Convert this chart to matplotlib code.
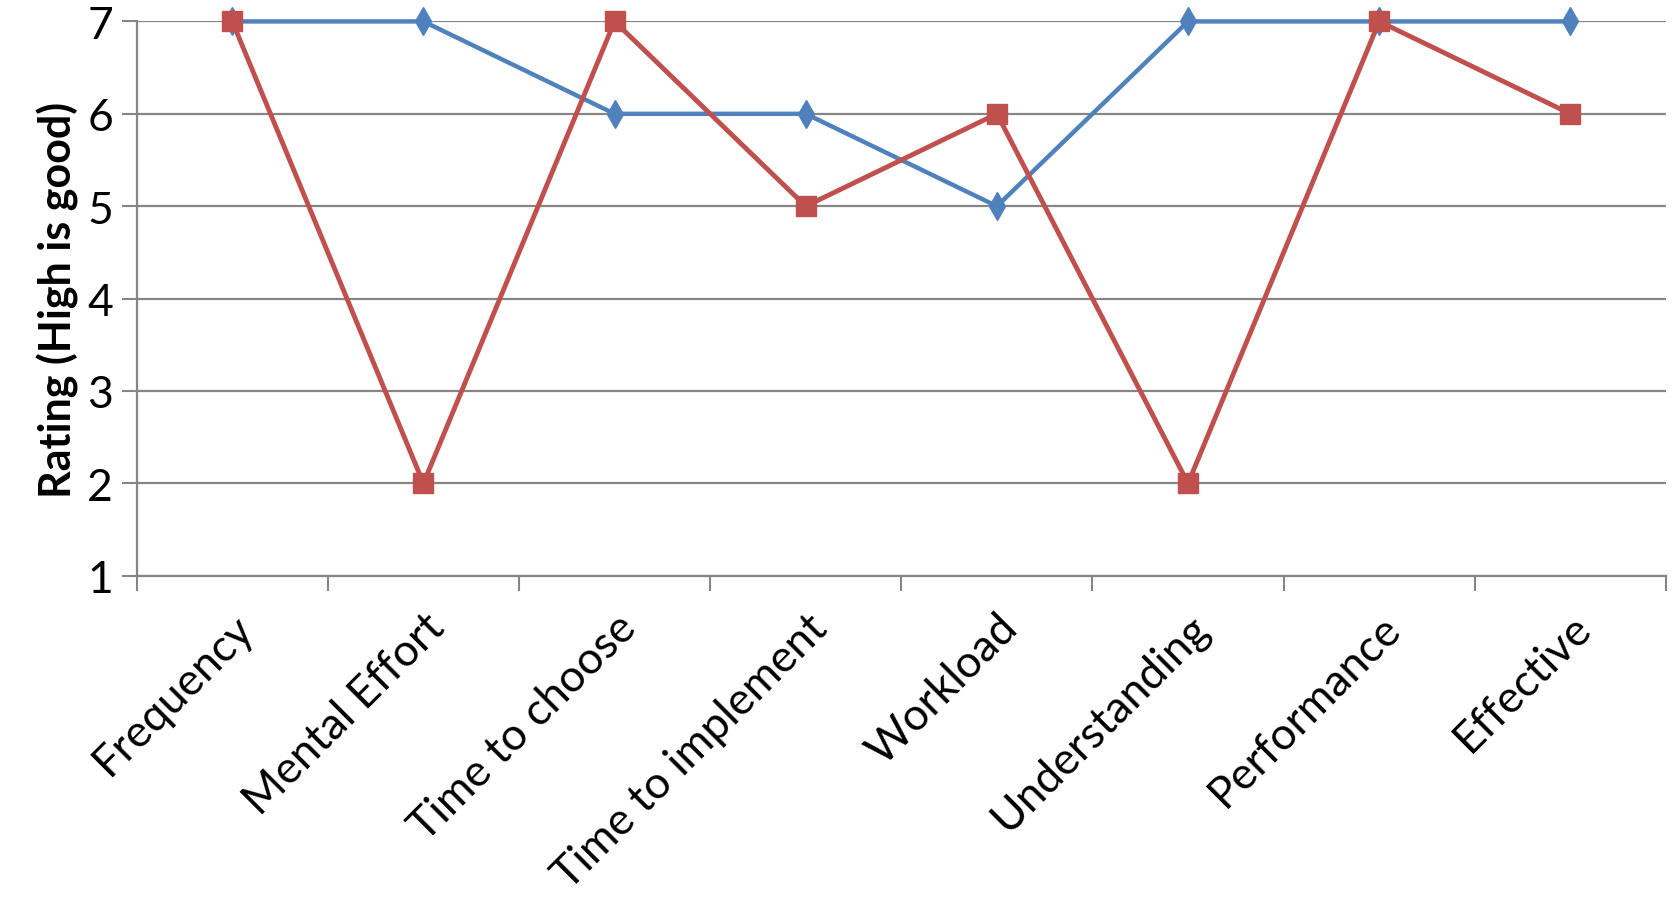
import matplotlib
matplotlib.use('Agg')
import matplotlib.pyplot as plt
import numpy as np

# rating per question for the two conditions
categories = ['Frequency', 'Mental Effort', 'Time to choose', 'Time to implement',
              'Workload', 'Understanding', 'Performance', 'Effective']
blue_vals = [7, 7, 6, 6, 5, 7, 7, 7]
red_vals = [7, 2, 7, 5, 6, 2, 7, 6]
y_ticks = [1, 2, 3, 4, 5, 6, 7]

plt.rcParams['font.family'] = ['Lato', 'DejaVu Sans']

fig = plt.figure(figsize=(16.75, 9.04), dpi=100)
ax = fig.add_axes([0.0816, 0.362, 0.913, 0.6132])

x = np.arange(len(categories))
ax.plot(x, blue_vals, color='#4F81BD', lw=3.2, marker='d', ms=14, zorder=3, clip_on=False)
ax.plot(x, red_vals, color='#C0504D', lw=3.5, marker='s', ms=14, zorder=4, clip_on=False)

ax.set_xlim(-0.5, len(categories) - 0.5)
ax.set_ylim(1, 7)
ax.set_yticks(y_ticks)
ax.yaxis.grid(True, color='#868686', lw=1.6)
ax.set_axisbelow(True)

# boundary ticks between categories, labels at centres
ax.set_xticks(np.arange(-0.5, len(categories), 1.0))
ax.set_xticklabels([])
ax.set_xticks(x, minor=True)
ax.set_xticklabels(categories, minor=True, rotation=45, ha='right',
                   rotation_mode='anchor', fontsize=32)
ax.tick_params(axis='x', which='minor', length=0, pad=22)
ax.tick_params(axis='x', which='major', length=11, width=1.5, color='#868686')
ax.tick_params(axis='y', length=11, width=1.5, color='#868686', labelsize=32, pad=6)

for side in ['top', 'right']:
    ax.spines[side].set_visible(False)
for side in ['left', 'bottom']:
    ax.spines[side].set_color('#868686')
    ax.spines[side].set_linewidth(1.6)

ax.set_ylabel('Rating (High is good)', fontsize=31, fontweight='bold', labelpad=6)

fig.savefig('out.png', dpi=100)
